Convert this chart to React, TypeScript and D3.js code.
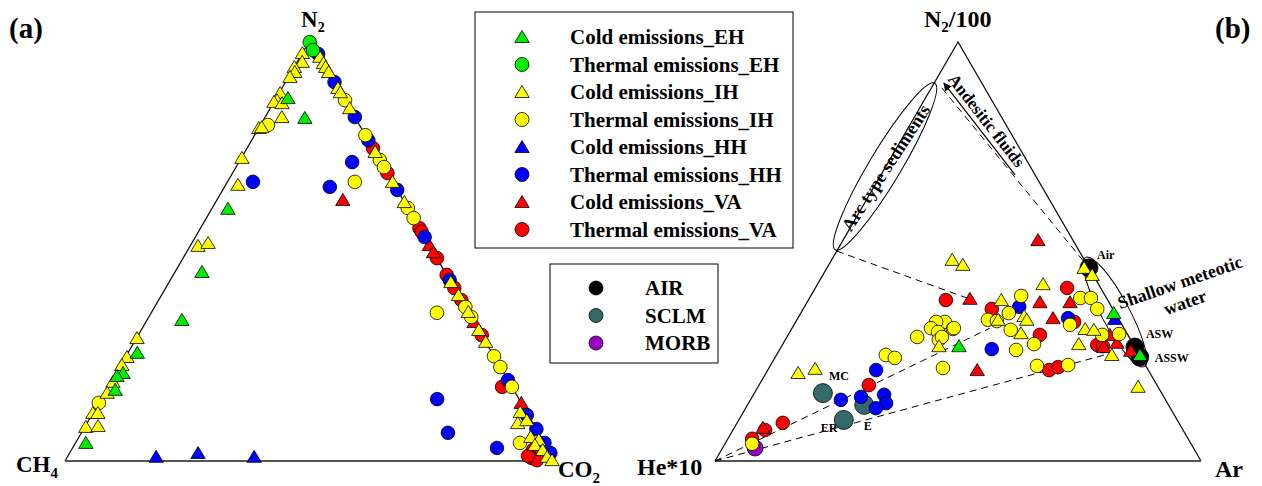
import React from "react";
import * as d3 from "d3";

// (a) N2 - CH4 - CO2 ternary, values in %: [N2, CO2]  (CH4 = 100 - N2 - CO2)
const coldEH_a = [[86.2, 2.4], [81.5, 8.2], [59.9, 3.3], [44.9, 5.5], [33.5, 7.1], [25.7, 1.9], [20.9, 1.4], [20.2, 0.5], [16.9, 1.8], [4.3, 2.1]];
const thermalEH_a = [[99.5, 0.2], [97.6, 1.8]];
const coldIH_a = [
  [96.9, 0], [94.8, 1.0], [93.6, 0], [92.4, 0.7], [91.2, 0.3], [87.4, 0.2], [85.7, 0.4], [85.3, 0], [85.0, 1.8], [81.7, 3.4],
  [79.1, 0], [79.3, 0.5], [72.0, 0.1], [65.6, 2.5], [51.1, 1.6], [51.8, 3.3], [29.2, 0.1], [24.7, 0.3], [22.8, 0.2], [18.8, 0.4],
  [16.2, 0.5], [11.4, 0], [11.4, 1.0], [8.1, 0.2], [8.3, 2.6],
  [96.0, 4.0], [94.5, 5.5], [93.6, 6.4], [92.4, 7.6], [88.6, 11.4], [87.6, 12.4], [83.8, 16.2], [73.4, 26.6], [66.3, 33.7], [61.5, 38.5],
  [42.5, 57.5], [39.4, 60.6], [35.4, 64.6], [31.1, 68.9], [28.3, 71.7], [11.6, 87.1], [9.0, 87.9], [9.7, 89.4], [5.7, 92.2], [5.0, 94.2],
  [3.8, 94.0], [2.6, 96.2], [1.0, 97.9], [0.2, 99.3],
];
const thermalIH_a = [[79.8, 1.5], [13.8, 0], [85.7, 14.3], [77.4, 22.6], [71.5, 28.5], [69.8, 30.2], [60.1, 39.9], [57.7, 42.3], [66.3, 26.0], [35.2, 58.3], [36.6, 63.4], [34.2, 65.8], [24.9, 75.1], [22.3, 77.7], [17.6, 82.4], [4.3, 90.7]];
const coldHH_a = [[1.0, 18.1], [1.9, 26.2], [1.0, 38.1]];
const thermalHH_a = [[96.7, 3.3], [90.0, 10.0], [81.7, 18.3], [76.2, 23.8], [64.4, 35.6], [53.2, 46.8], [43.0, 57.0], [19.2, 80.8], [10.9, 88.8], [7.6, 92.4], [4.3, 95.7], [1.9, 98.1], [71.0, 23.1], [66.3, 5.2], [65.1, 21.5], [14.7, 68.6], [6.7, 74.8], [3.1, 86.6]];
const coldVA_a = [[62.0, 25.7], [51.3, 48.7], [49.6, 50.4], [33.0, 67.0], [13.8, 86.2], [3.3, 96.7]];
const thermalVA_a = [[74.3, 25.7], [68.4, 31.6], [55.3, 44.7], [54.4, 45.6], [48.2, 51.8], [44.2, 55.8], [41.1, 58.9], [38.2, 61.8], [29.9, 70.1], [17.6, 80.4], [2.6, 94.2], [0.7, 94.9], [0.2, 96.2], [1.2, 93.9]];

// (b) N2/100 - He*10 - Ar ternary, values in %: [N2/100, Ar]  (He*10 = remainder)
const coldEH_b = [[35.3, 64.4], [25.3, 74.8], [27.4, 36.5]];
const coldIH_b = [[48.0, 24.8], [46.8, 27.6], [46.1, 52.9], [44.4, 55.4], [42.2, 46.4], [38.4, 39.7], [34.6, 46.3], [33.7, 47.3], [33.7, 41.4], [30.5, 47.7], [31.5, 60.4], [31.3, 62.3], [27.9, 60.9], [25.3, 69.0], [17.7, 78.2], [27.4, 32.4], [21.0, 6.6], [22.0, 9.6]];
const thermalIH_b = [[39.4, 43.3], [35.3, 42.8], [33.7, 39.3], [33.4, 41.3], [31.3, 45.2], [27.9, 51.7], [26.5, 48.7], [38.9, 55.7], [38.9, 57.9], [36.3, 60.5], [32.5, 56.8], [30.1, 64.6], [30.3, 68.0], [22.7, 54.9], [22.9, 61.2], [22.2, 35.8], [33.2, 30.7], [31.5, 33.2], [33.2, 28.9], [31.7, 28.6], [30.8, 30.5], [31.7, 33.3], [29.6, 26.8], [28.9, 31.6], [29.6, 31.9], [25.3, 22.5], [24.6, 24.7], [4.1, 5.6]];
const coldHH_b = [[33.9, 65.3]];
const thermalHH_b = [[36.8, 44.2], [34.1, 55.6], [26.7, 43.6], [21.7, 22.3], [14.6, 18.6], [15.3, 22.4], [15.8, 26.9], [13.8, 28.3], [12.6, 26.8]];
const coldVA_b = [[52.7, 40.1], [38.7, 33.1], [37.9, 47.9], [37.9, 54.1], [34.1, 52.5], [30.1, 66.2], [27.2, 66.4], [28.2, 68.6], [26.3, 72.4], [21.7, 43.1], [7.9, 5.9]];
const thermalVA_b = [[38.4, 28.3], [36.3, 38.8], [41.3, 51.8], [30.1, 51.8], [33.2, 57.3], [27.7, 64.8], [27.4, 66.1], [21.7, 57.9], [22.4, 59.4], [18.1, 22.6], [9.1, 9.4], [7.4, 6.6], [5.3, 5.0]];
const air_b = [[46.1, 53.9], [27.2, 72.8], [24.8, 75.0]];
const sclm_b = [[16.2, 14.1], [13.4, 24.0], [9.8, 21.6]];
const morb_b = [[3.1, 6.7]];

// mixing lines in (b), [N2/100, Ar]
const mixLines_b = [
  [[0, 0], [31.7, 40.7]],
  [[0, 0], [25.8, 68.8]],
  [[50.1, 0], [38.9, 32.4]],
  [[89.0, 2.2], [46.1, 53.9]],
];
const arrow_b = [[68.3, 27.6], [90.2, 2.0]];

const legendNames = ["Cold emissions_EH", "Thermal emissions_EH", "Cold emissions_IH", "Thermal emissions_IH", "Cold emissions_HH", "Thermal emissions_HH", "Cold emissions_VA", "Thermal emissions_VA"];
const refNames = ["AIR", "SCLM", "MORB"];

const GREEN = "#00ee00";
const YELLOW = "#ffff00";
const BLUE = "#0000ff";
const RED = "#ff0000";

const series = [
  { name: legendNames[0], shape: "tri", color: GREEN, a: coldEH_a, b: coldEH_b },
  { name: legendNames[1], shape: "circle", color: GREEN, a: thermalEH_a, b: [] },
  { name: legendNames[2], shape: "tri", color: YELLOW, a: coldIH_a, b: coldIH_b },
  { name: legendNames[3], shape: "circle", color: YELLOW, a: thermalIH_a, b: thermalIH_b },
  { name: legendNames[4], shape: "tri", color: BLUE, a: coldHH_a, b: coldHH_b },
  { name: legendNames[5], shape: "circle", color: BLUE, a: thermalHH_a, b: thermalHH_b },
  { name: legendNames[6], shape: "tri", color: RED, a: coldVA_a, b: coldVA_b },
  { name: legendNames[7], shape: "circle", color: RED, a: thermalVA_a, b: thermalVA_b },
];
const refs = [
  { name: refNames[0], color: "#000000", r: 9, b: air_b },
  { name: refNames[1], color: "#336b6b", r: 9.5, b: sclm_b },
  { name: refNames[2], color: "#9900cc", r: 8, b: morb_b },
];
// draw order (bottom to top)
const drawOrder = [7, 6, 5, 4, 3, 2, 0, 1];

const FONT = "'Liberation Serif', 'Times New Roman', Times, serif";

// ternary scales
const aX = d3.scaleLinear().domain([0, 100]).range([65, 555]);
const aY = d3.scaleLinear().domain([0, 100]).range([461, 40]);
const bX = d3.scaleLinear().domain([0, 100]).range([715, 1201]);
const bY = d3.scaleLinear().domain([0, 100]).range([461, 42]);

const posA = (d) => [aX(d[1] + d[0] / 2), aY(d[0])];
const posB = (d) => [bX(d[1] + d[0] / 2), bY(d[0])];

const line = d3.line();

function Marker({ shape, x, y, fill, r = 6.8 }) {
  if (shape === "circle")
    return <circle cx={x} cy={y} r={r} fill={fill} stroke="#000" strokeWidth={0.8} />;
  return (
    <path
      d={`M${x},${y - 6.5}L${x + 7.2},${y + 5.5}L${x - 7.2},${y + 5.5}Z`}
      fill={fill}
      stroke="#000"
      strokeWidth={0.8}
    />
  );
}

function Triangle({ pos }) {
  const l = pos([0, 0]);
  const r = pos([0, 100]);
  const t = pos([100, 0]);
  return (
    <g fill="none">
      <path d={line([l, t, r])} stroke="#111" strokeWidth={1.3} />
      <path d={line([l, r])} stroke="#555" strokeWidth={1.8} />
    </g>
  );
}

export default function App() {
  const bold = { fontFamily: FONT, fontWeight: "bold" };
  const [airX, airY] = posB(air_b[0]);
  const [aswX, aswY] = posB(air_b[1]);
  const [asswX, asswY] = posB(air_b[2]);
  const [mcX, mcY] = posB(sclm_b[0]);
  const [erX, erY] = posB(sclm_b[2]);
  const arr = arrow_b.map(posB);

  return (
    <svg width={1262} height={486} style={{ position: "absolute", left: 0, top: 0, background: "#fff" }}>
      <defs>
        <marker id="ah" viewBox="0 0 10 10" refX="9" refY="5" markerWidth="7" markerHeight="7" orient="auto">
          <path d="M0,0L10,5L0,10Z" fill="#000" />
        </marker>
      </defs>

      {/* ---------- (a) ---------- */}
      <text x={9} y={38} fontSize={29} {...bold}>(a)</text>
      <Triangle pos={posA} />
      <text x={301} y={27} fontSize={23} {...bold}>N<tspan fontSize={14} dy={5}>2</tspan></text>
      <text x={16} y={472} fontSize={23} {...bold}>CH<tspan fontSize={15} dy={6}>4</tspan></text>
      <text x={558} y={477} fontSize={23} {...bold}>CO<tspan fontSize={15} dy={6}>2</tspan></text>
      {drawOrder.map((si) => {
        const s = series[si];
        return (
          <g key={"a" + si}>
            {s.a.map((d, i) => {
              const [x, y] = posA(d);
              return <Marker key={i} shape={s.shape} x={x} y={y} fill={s.color} />;
            })}
          </g>
        );
      })}

      {/* ---------- legends ---------- */}
      <rect x={475} y={12} width={318} height={236} fill="#fff" stroke="#000" strokeWidth={1} />
      {series.map((s, i) => {
        const y = 37 + i * 27.5;
        return (
          <g key={"l" + i}>
            <Marker shape={s.shape} x={522} y={y} fill={s.color} r={7} />
            <text x={570} y={y + 7} fontSize={21} {...bold}>{s.name}</text>
          </g>
        );
      })}
      <rect x={550} y={264} width={168} height={99} fill="#fff" stroke="#000" strokeWidth={1} />
      {refs.map((s, i) => {
        const y = 288 + i * 27.5;
        return (
          <g key={"r" + i}>
            <circle cx={596} cy={y} r={7} fill={s.color} stroke="#000" strokeWidth={0.8} />
            <text x={645} y={y + 7} fontSize={21} {...bold}>{s.name}</text>
          </g>
        );
      })}

      {/* ---------- (b) ---------- */}
      <text x={1215} y={38} fontSize={29} {...bold}>(b)</text>
      <Triangle pos={posB} />
      <text x={924} y={27} fontSize={24} {...bold}>N<tspan fontSize={15} dy={5}>2</tspan><tspan dy={-5}>/100</tspan></text>
      <text x={637} y={475} fontSize={24} {...bold}>He*10</text>
      <text x={1215} y={477} fontSize={24} {...bold}>Ar</text>

      {mixLines_b.map((l, i) => (
        <path key={"m" + i} d={line(l.map(posB))} fill="none" stroke="#000" strokeWidth={1} strokeDasharray="7,5" />
      ))}
      <path d={line(arr)} stroke="#000" strokeWidth={1.2} fill="none" markerEnd="url(#ah)" />

      <ellipse cx={885} cy={166.5} rx={97} ry={16} transform="rotate(-59.1 885 166.5)" fill="none" stroke="#000" strokeWidth={1} />
      <text x={0} y={0} fontSize={18} textAnchor="middle" {...bold} transform="translate(891,171) rotate(-57)">Arc type sediments</text>
      <text x={0} y={0} fontSize={17} textAnchor="middle" {...bold} transform="translate(982,124) rotate(52)">Andesitic fluids</text>

      <ellipse cx={1115} cy={312} rx={62} ry={14} transform="rotate(61.8 1115 312)" fill="none" stroke="#000" strokeWidth={1} />
      <text x={0} y={0} fontSize={18} textAnchor="middle" {...bold} transform="translate(1182,288) rotate(-19)">Shallow meteotic</text>
      <text x={0} y={0} fontSize={18} textAnchor="middle" {...bold} transform="translate(1187,308) rotate(-19)">water</text>

      {refs.map((s, si) => (
        <g key={"rb" + si}>
          {s.b.map((d, i) => {
            const [x, y] = posB(d);
            return <circle key={i} cx={x} cy={y} r={s.r} fill={s.color} stroke="#000" strokeWidth={0.8} />;
          })}
        </g>
      ))}
      {drawOrder.map((si) => {
        const s = series[si];
        return (
          <g key={"b" + si}>
            {s.b.map((d, i) => {
              const [x, y] = posB(d);
              return <Marker key={i} shape={s.shape} x={x} y={y} fill={s.color} />;
            })}
          </g>
        );
      })}

      <text x={airX + 8} y={airY - 9} fontSize={12} {...bold}>Air</text>
      <text x={aswX + 11} y={aswY - 9} fontSize={12} {...bold}>ASW</text>
      <text x={asswX + 15} y={asswY + 5} fontSize={12} {...bold}>ASSW</text>
      <text x={mcX + 6} y={mcY - 13} fontSize={12} {...bold}>MC</text>
      <text x={erX - 23} y={erY + 12} fontSize={12} {...bold}>ER</text>
      <text x={erX + 20} y={erY + 10} fontSize={12} {...bold}>E</text>
    </svg>
  );
}
